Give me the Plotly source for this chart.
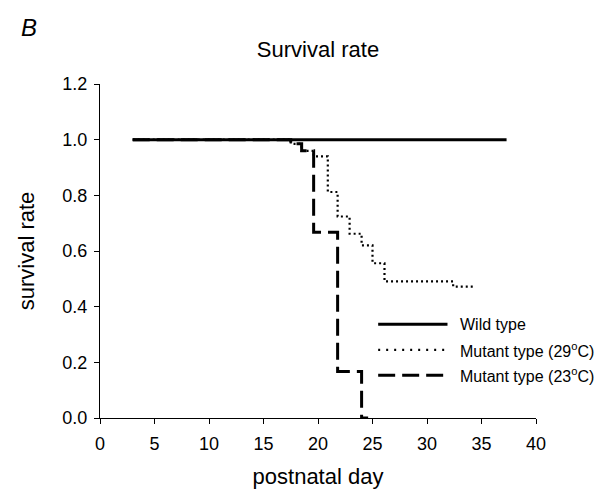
import plotly.graph_objects as go

# ---- data ----
wild_x = [3, 37.3]
wild_y = [1.0, 1.0]

mut29_x = [3, 17.5, 18.5, 19.6, 20.9, 21.8, 22.9, 24.0, 25.0, 26.1, 32.4, 34.3]
mut29_y = [1.0, 0.985, 0.96, 0.94, 0.812, 0.724, 0.662, 0.62, 0.556, 0.491, 0.472, 0.472]

mut23_x = [3, 17.5, 18.5, 19.6, 21.8, 24.0, 24.6]
mut23_y = [1.0, 0.985, 0.96, 0.667, 0.167, 0.0, 0.0]

legend_labels = ["Wild type", "Mutant type (29<sup>o</sup>C)", "Mutant type (23<sup>o</sup>C)"]

FONT = "Liberation Sans, Arial, sans-serif"
DOT = "2px,3px"
DASH = "17px,7px"

fig = go.Figure()
fig.add_trace(go.Scatter(x=mut29_x, y=mut29_y, mode="lines", line_shape="hv",
                         line=dict(color="black", width=2.2, dash=DOT),
                         name=legend_labels[1], showlegend=False))
fig.add_trace(go.Scatter(x=mut23_x, y=mut23_y, mode="lines", line_shape="hv",
                         line=dict(color="black", width=3, dash=DASH),
                         name=legend_labels[2], showlegend=False))
fig.add_trace(go.Scatter(x=wild_x, y=wild_y, mode="lines", line_shape="hv",
                         line=dict(color="black", width=3),
                         name=legend_labels[0], showlegend=False))

# custom legend (long line samples like the reference)
leg_rows = [0.281, 0.204, 0.128]
leg_dash = ["solid", "2px,6px", DASH]
leg_w = [3, 2.2, 3]
for lab, yy, d, w in zip(legend_labels, leg_rows, leg_dash, leg_w):
    fig.add_shape(type="line", xref="paper", yref="paper",
                  x0=0.638, x1=0.797, y0=yy, y1=yy,
                  line=dict(color="black", width=w, dash=d))
    fig.add_annotation(xref="paper", yref="paper", x=0.82, y=yy, text=lab,
                       showarrow=False, xanchor="left", yanchor="middle",
                       font=dict(family=FONT, size=16, color="black"))

fig.add_annotation(xref="paper", yref="paper", x=-0.185, y=1.168, text="<i>B</i>",
                   showarrow=False, xanchor="left", yanchor="middle",
                   font=dict(family=FONT, size=24, color="black"))

fig.update_layout(
    width=613, height=496,
    margin=dict(l=92, r=85, t=76, b=86),
    paper_bgcolor="white", plot_bgcolor="white",
    font=dict(family=FONT, size=18, color="black"),
    title=dict(text="Survival rate", x=0.5, xref="paper", y=0.917, yanchor="middle",
               font=dict(family=FONT, size=22, color="black")),
    xaxis=dict(range=[0, 40], dtick=5, tick0=0, showgrid=False, zeroline=False,
               showline=True, linecolor="black", linewidth=1,
               ticks="outside", ticklen=5, tickcolor="black", ticklabelstandoff=4,
               title=dict(text="postnatal day", font=dict(size=22), standoff=16)),
    yaxis=dict(range=[0, 1.2], dtick=0.2, tick0=0, tickformat=".1f",
               showgrid=False, zeroline=False,
               showline=True, linecolor="black", linewidth=1,
               ticks="outside", ticklen=5, tickcolor="black", ticklabelstandoff=3,
               title=dict(text="survival rate", font=dict(size=22), standoff=21)),
)

fig.write_html("out.html")
